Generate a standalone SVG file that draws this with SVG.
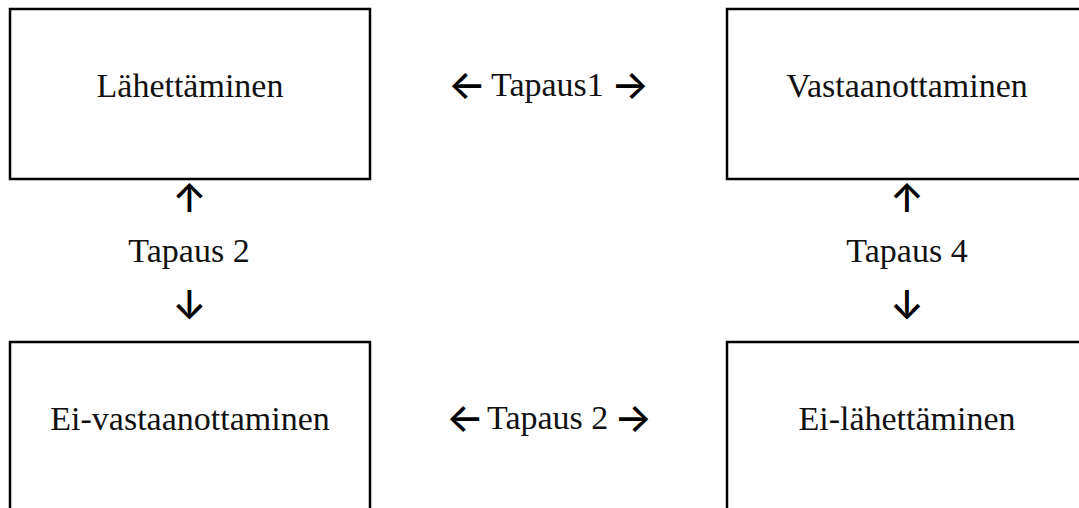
<svg xmlns="http://www.w3.org/2000/svg" width="1079" height="508" viewBox="0 0 1079 508">
<style>
.box{fill:#fff;stroke:#000;stroke-width:2.5}
.lbl{font-family:"Liberation Serif","Times New Roman",serif;font-size:34px;fill:#111}
.arr{font-family:Inter,"DejaVu Sans",sans-serif;font-size:40px;font-weight:500;fill:#000}
</style>
<rect width="1079" height="508" fill="#fff"/>
<g id="node-lahettaminen">
<rect class="box" x="10" y="9" width="360" height="170"/>
<text class="lbl" x="190" y="97" text-anchor="middle">Lähettäminen</text>
</g>
<g id="node-vastaanottaminen">
<rect class="box" x="727" y="9" width="360" height="170"/>
<text class="lbl" x="907" y="97" text-anchor="middle">Vastaanottaminen</text>
</g>
<g id="node-ei-vastaanottaminen">
<rect class="box" x="10" y="342" width="360" height="180"/>
<text class="lbl" x="190" y="430" text-anchor="middle">Ei-vastaanottaminen</text>
</g>
<g id="node-ei-lahettaminen">
<rect class="box" x="727" y="342" width="360" height="180"/>
<text class="lbl" x="907" y="430" text-anchor="middle">Ei-lähettäminen</text>
</g>
<g id="connectors">
<text class="lbl" y="96"><tspan class="arr" x="448" y="99">←</tspan><tspan x="491" y="96"> </tspan><tspan x="491">Tapaus1</tspan><tspan x="605"> </tspan><tspan class="arr" x="611" y="99">→</tspan></text>
<text class="lbl" y="429"><tspan class="arr" x="446" y="432">←</tspan><tspan x="487" y="429"> </tspan><tspan x="487">Tapaus 2</tspan><tspan x="608"> </tspan><tspan class="arr" x="614" y="432">→</tspan></text>
<text class="arr" x="189.5" y="212" text-anchor="middle">↑</text>
<text class="lbl" x="189" y="262" text-anchor="middle">Tapaus 2</text>
<text class="arr" x="189.5" y="319" text-anchor="middle">↓</text>
<text class="arr" x="907" y="212" text-anchor="middle">↑</text>
<text class="lbl" x="907" y="262" text-anchor="middle">Tapaus 4</text>
<text class="arr" x="907" y="319" text-anchor="middle">↓</text>
</g>
</svg>
